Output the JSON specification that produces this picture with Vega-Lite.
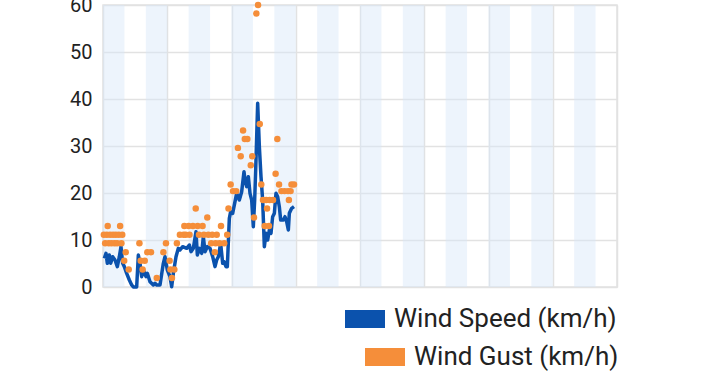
{
  "$schema": "https://vega.github.io/schema/vega-lite/v6.json",
  "width": 514,
  "height": 282,
  "autosize": {"type": "none"},
  "padding": {"left": 103, "top": 5, "right": 103, "bottom": 88},
  "background": "white",
  "config": {
    "view": {"stroke": "#e2e2e2", "strokeWidth": 1.5},
    "font": "Roboto",
    "legend": {"padding": 0, "labelFont": "Roboto", "labelFontSize": 26, "labelColor": "#222222", "labelLimit": 0, "labelOffset": 9, "title": null}
  },
  "datasets": {
    "bands": [
      {"start": 0, "end": 1}, {"start": 2, "end": 3}, {"start": 4, "end": 5}, {"start": 6, "end": 7},
      {"start": 8, "end": 9}, {"start": 10, "end": 11}, {"start": 12, "end": 13}, {"start": 14, "end": 15},
      {"start": 16, "end": 17}, {"start": 18, "end": 19}, {"start": 20, "end": 21}, {"start": 22, "end": 23}
    ],
    "speed": [
      {"t": 0.062, "v": 6.1, "s": "Wind Speed (km/h)"}, {"t": 0.14, "v": 7.16, "s": "Wind Speed (km/h)"},
      {"t": 0.202, "v": 5.04, "s": "Wind Speed (km/h)"}, {"t": 0.296, "v": 6.81, "s": "Wind Speed (km/h)"},
      {"t": 0.358, "v": 5.04, "s": "Wind Speed (km/h)"}, {"t": 0.451, "v": 6.45, "s": "Wind Speed (km/h)"},
      {"t": 0.56, "v": 5.74, "s": "Wind Speed (km/h)"}, {"t": 0.669, "v": 4.33, "s": "Wind Speed (km/h)"},
      {"t": 0.763, "v": 6.45, "s": "Wind Speed (km/h)"}, {"t": 0.84, "v": 8.58, "s": "Wind Speed (km/h)"},
      {"t": 0.918, "v": 5.04, "s": "Wind Speed (km/h)"}, {"t": 0.996, "v": 4.33, "s": "Wind Speed (km/h)"},
      {"t": 1.105, "v": 2.91, "s": "Wind Speed (km/h)"}, {"t": 1.23, "v": 1.49, "s": "Wind Speed (km/h)"},
      {"t": 1.339, "v": 0.43, "s": "Wind Speed (km/h)"}, {"t": 1.416, "v": 0, "s": "Wind Speed (km/h)"},
      {"t": 1.572, "v": 0, "s": "Wind Speed (km/h)"}, {"t": 1.65, "v": 6.81, "s": "Wind Speed (km/h)"},
      {"t": 1.728, "v": 5.04, "s": "Wind Speed (km/h)"}, {"t": 1.805, "v": 2.2, "s": "Wind Speed (km/h)"},
      {"t": 1.883, "v": 3.62, "s": "Wind Speed (km/h)"}, {"t": 2.008, "v": 2.2, "s": "Wind Speed (km/h)"},
      {"t": 2.07, "v": 2.91, "s": "Wind Speed (km/h)"}, {"t": 2.195, "v": 1.13, "s": "Wind Speed (km/h)"},
      {"t": 2.35, "v": 0.43, "s": "Wind Speed (km/h)"}, {"t": 2.428, "v": 0.78, "s": "Wind Speed (km/h)"},
      {"t": 2.506, "v": 0.43, "s": "Wind Speed (km/h)"}, {"t": 2.661, "v": 0.43, "s": "Wind Speed (km/h)"},
      {"t": 2.817, "v": 5.04, "s": "Wind Speed (km/h)"}, {"t": 2.895, "v": 6.45, "s": "Wind Speed (km/h)"},
      {"t": 3.004, "v": 3.62, "s": "Wind Speed (km/h)"}, {"t": 3.128, "v": 2.2, "s": "Wind Speed (km/h)"},
      {"t": 3.206, "v": 0.07, "s": "Wind Speed (km/h)"}, {"t": 3.284, "v": 2.91, "s": "Wind Speed (km/h)"},
      {"t": 3.409, "v": 6.45, "s": "Wind Speed (km/h)"}, {"t": 3.518, "v": 8.23, "s": "Wind Speed (km/h)"},
      {"t": 3.595, "v": 7.87, "s": "Wind Speed (km/h)"}, {"t": 3.72, "v": 8.58, "s": "Wind Speed (km/h)"},
      {"t": 3.907, "v": 8.23, "s": "Wind Speed (km/h)"}, {"t": 4.031, "v": 8.94, "s": "Wind Speed (km/h)"},
      {"t": 4.109, "v": 7.52, "s": "Wind Speed (km/h)"}, {"t": 4.218, "v": 8.23, "s": "Wind Speed (km/h)"},
      {"t": 4.342, "v": 11.77, "s": "Wind Speed (km/h)"}, {"t": 4.405, "v": 6.81, "s": "Wind Speed (km/h)"},
      {"t": 4.498, "v": 8.23, "s": "Wind Speed (km/h)"}, {"t": 4.607, "v": 7.16, "s": "Wind Speed (km/h)"},
      {"t": 4.685, "v": 10.71, "s": "Wind Speed (km/h)"}, {"t": 4.763, "v": 7.52, "s": "Wind Speed (km/h)"},
      {"t": 4.872, "v": 8.58, "s": "Wind Speed (km/h)"}, {"t": 4.996, "v": 8.23, "s": "Wind Speed (km/h)"},
      {"t": 5.121, "v": 6.45, "s": "Wind Speed (km/h)"}, {"t": 5.23, "v": 4.33, "s": "Wind Speed (km/h)"},
      {"t": 5.307, "v": 5.74, "s": "Wind Speed (km/h)"}, {"t": 5.385, "v": 6.45, "s": "Wind Speed (km/h)"},
      {"t": 5.494, "v": 9.29, "s": "Wind Speed (km/h)"}, {"t": 5.588, "v": 5.04, "s": "Wind Speed (km/h)"},
      {"t": 5.65, "v": 5.39, "s": "Wind Speed (km/h)"}, {"t": 5.743, "v": 4.33, "s": "Wind Speed (km/h)"},
      {"t": 5.805, "v": 4.33, "s": "Wind Speed (km/h)"}, {"t": 5.899, "v": 14.61, "s": "Wind Speed (km/h)"},
      {"t": 5.961, "v": 16.03, "s": "Wind Speed (km/h)"}, {"t": 6.054, "v": 15.67, "s": "Wind Speed (km/h)"},
      {"t": 6.163, "v": 18.16, "s": "Wind Speed (km/h)"}, {"t": 6.241, "v": 19.93, "s": "Wind Speed (km/h)"},
      {"t": 6.366, "v": 18.51, "s": "Wind Speed (km/h)"}, {"t": 6.475, "v": 20.28, "s": "Wind Speed (km/h)"},
      {"t": 6.584, "v": 24.54, "s": "Wind Speed (km/h)"}, {"t": 6.63, "v": 22.77, "s": "Wind Speed (km/h)"},
      {"t": 6.708, "v": 21.35, "s": "Wind Speed (km/h)"}, {"t": 6.786, "v": 23.48, "s": "Wind Speed (km/h)"},
      {"t": 6.864, "v": 19.93, "s": "Wind Speed (km/h)"}, {"t": 6.942, "v": 18.51, "s": "Wind Speed (km/h)"},
      {"t": 7.019, "v": 12.84, "s": "Wind Speed (km/h)"}, {"t": 7.082, "v": 18.51, "s": "Wind Speed (km/h)"},
      {"t": 7.144, "v": 27.02, "s": "Wind Speed (km/h)"}, {"t": 7.222, "v": 39.08, "s": "Wind Speed (km/h)"},
      {"t": 7.3, "v": 29.86, "s": "Wind Speed (km/h)"}, {"t": 7.377, "v": 23.48, "s": "Wind Speed (km/h)"},
      {"t": 7.455, "v": 18.51, "s": "Wind Speed (km/h)"}, {"t": 7.533, "v": 8.58, "s": "Wind Speed (km/h)"},
      {"t": 7.611, "v": 11.42, "s": "Wind Speed (km/h)"}, {"t": 7.689, "v": 10.0, "s": "Wind Speed (km/h)"},
      {"t": 7.767, "v": 12.13, "s": "Wind Speed (km/h)"}, {"t": 7.844, "v": 11.42, "s": "Wind Speed (km/h)"},
      {"t": 7.922, "v": 14.96, "s": "Wind Speed (km/h)"}, {"t": 8.0, "v": 15.67, "s": "Wind Speed (km/h)"},
      {"t": 8.078, "v": 19.93, "s": "Wind Speed (km/h)"}, {"t": 8.156, "v": 19.22, "s": "Wind Speed (km/h)"},
      {"t": 8.233, "v": 17.09, "s": "Wind Speed (km/h)"}, {"t": 8.296, "v": 14.26, "s": "Wind Speed (km/h)"},
      {"t": 8.42, "v": 14.26, "s": "Wind Speed (km/h)"}, {"t": 8.498, "v": 14.96, "s": "Wind Speed (km/h)"},
      {"t": 8.576, "v": 13.9, "s": "Wind Speed (km/h)"}, {"t": 8.654, "v": 12.13, "s": "Wind Speed (km/h)"},
      {"t": 8.7, "v": 15.67, "s": "Wind Speed (km/h)"}, {"t": 8.809, "v": 16.74, "s": "Wind Speed (km/h)"},
      {"t": 8.918, "v": 17.09, "s": "Wind Speed (km/h)"}
    ],
    "gust": [
      {"t": 0.04, "v": 11.1, "s": "Wind Gust (km/h)"}, {"t": 0.1, "v": 9.3, "s": "Wind Gust (km/h)"},
      {"t": 0.18, "v": 11.1, "s": "Wind Gust (km/h)"}, {"t": 0.22, "v": 13.0, "s": "Wind Gust (km/h)"},
      {"t": 0.27, "v": 9.3, "s": "Wind Gust (km/h)"}, {"t": 0.33, "v": 11.1, "s": "Wind Gust (km/h)"},
      {"t": 0.4, "v": 9.3, "s": "Wind Gust (km/h)"}, {"t": 0.47, "v": 11.1, "s": "Wind Gust (km/h)"},
      {"t": 0.54, "v": 9.3, "s": "Wind Gust (km/h)"}, {"t": 0.6, "v": 11.1, "s": "Wind Gust (km/h)"},
      {"t": 0.66, "v": 9.3, "s": "Wind Gust (km/h)"}, {"t": 0.74, "v": 11.1, "s": "Wind Gust (km/h)"},
      {"t": 0.8, "v": 13.0, "s": "Wind Gust (km/h)"}, {"t": 0.86, "v": 9.3, "s": "Wind Gust (km/h)"},
      {"t": 0.9, "v": 11.1, "s": "Wind Gust (km/h)"}, {"t": 0.99, "v": 5.6, "s": "Wind Gust (km/h)"},
      {"t": 1.06, "v": 7.4, "s": "Wind Gust (km/h)"}, {"t": 1.2, "v": 3.7, "s": "Wind Gust (km/h)"},
      {"t": 1.7, "v": 9.3, "s": "Wind Gust (km/h)"}, {"t": 1.76, "v": 5.6, "s": "Wind Gust (km/h)"},
      {"t": 1.85, "v": 3.7, "s": "Wind Gust (km/h)"}, {"t": 1.95, "v": 5.6, "s": "Wind Gust (km/h)"},
      {"t": 2.07, "v": 7.4, "s": "Wind Gust (km/h)"}, {"t": 2.24, "v": 7.4, "s": "Wind Gust (km/h)"},
      {"t": 2.51, "v": 1.9, "s": "Wind Gust (km/h)"}, {"t": 2.82, "v": 7.4, "s": "Wind Gust (km/h)"},
      {"t": 2.94, "v": 9.3, "s": "Wind Gust (km/h)"}, {"t": 3.11, "v": 5.6, "s": "Wind Gust (km/h)"},
      {"t": 3.15, "v": 3.7, "s": "Wind Gust (km/h)"}, {"t": 3.22, "v": 1.9, "s": "Wind Gust (km/h)"},
      {"t": 3.33, "v": 3.7, "s": "Wind Gust (km/h)"}, {"t": 3.45, "v": 9.3, "s": "Wind Gust (km/h)"},
      {"t": 3.59, "v": 11.1, "s": "Wind Gust (km/h)"}, {"t": 3.76, "v": 11.1, "s": "Wind Gust (km/h)"},
      {"t": 3.8, "v": 13.0, "s": "Wind Gust (km/h)"}, {"t": 3.86, "v": 11.1, "s": "Wind Gust (km/h)"},
      {"t": 4.0, "v": 13.0, "s": "Wind Gust (km/h)"}, {"t": 4.04, "v": 11.1, "s": "Wind Gust (km/h)"},
      {"t": 4.2, "v": 13.0, "s": "Wind Gust (km/h)"}, {"t": 4.33, "v": 16.7, "s": "Wind Gust (km/h)"},
      {"t": 4.42, "v": 13.0, "s": "Wind Gust (km/h)"}, {"t": 4.48, "v": 11.1, "s": "Wind Gust (km/h)"},
      {"t": 4.65, "v": 13.0, "s": "Wind Gust (km/h)"}, {"t": 4.71, "v": 11.1, "s": "Wind Gust (km/h)"},
      {"t": 4.87, "v": 14.8, "s": "Wind Gust (km/h)"}, {"t": 4.92, "v": 11.1, "s": "Wind Gust (km/h)"},
      {"t": 5.05, "v": 9.3, "s": "Wind Gust (km/h)"}, {"t": 5.1, "v": 11.1, "s": "Wind Gust (km/h)"},
      {"t": 5.22, "v": 7.4, "s": "Wind Gust (km/h)"}, {"t": 5.26, "v": 9.3, "s": "Wind Gust (km/h)"},
      {"t": 5.31, "v": 11.1, "s": "Wind Gust (km/h)"}, {"t": 5.44, "v": 9.3, "s": "Wind Gust (km/h)"},
      {"t": 5.51, "v": 13.0, "s": "Wind Gust (km/h)"}, {"t": 5.66, "v": 9.3, "s": "Wind Gust (km/h)"},
      {"t": 5.8, "v": 11.1, "s": "Wind Gust (km/h)"}, {"t": 5.86, "v": 16.7, "s": "Wind Gust (km/h)"},
      {"t": 5.96, "v": 21.8, "s": "Wind Gust (km/h)"}, {"t": 6.07, "v": 20.4, "s": "Wind Gust (km/h)"},
      {"t": 6.22, "v": 20.4, "s": "Wind Gust (km/h)"}, {"t": 6.3, "v": 29.6, "s": "Wind Gust (km/h)"},
      {"t": 6.43, "v": 27.8, "s": "Wind Gust (km/h)"}, {"t": 6.54, "v": 33.3, "s": "Wind Gust (km/h)"},
      {"t": 6.62, "v": 31.5, "s": "Wind Gust (km/h)"}, {"t": 6.74, "v": 31.5, "s": "Wind Gust (km/h)"},
      {"t": 6.9, "v": 25.9, "s": "Wind Gust (km/h)"}, {"t": 6.97, "v": 27.8, "s": "Wind Gust (km/h)"},
      {"t": 7.05, "v": 14.8, "s": "Wind Gust (km/h)"}, {"t": 7.16, "v": 58.2, "s": "Wind Gust (km/h)"},
      {"t": 7.24, "v": 60.0, "s": "Wind Gust (km/h)"}, {"t": 7.32, "v": 34.7, "s": "Wind Gust (km/h)"},
      {"t": 7.39, "v": 21.8, "s": "Wind Gust (km/h)"}, {"t": 7.47, "v": 18.5, "s": "Wind Gust (km/h)"},
      {"t": 7.55, "v": 13.0, "s": "Wind Gust (km/h)"}, {"t": 7.62, "v": 18.5, "s": "Wind Gust (km/h)"},
      {"t": 7.66, "v": 16.7, "s": "Wind Gust (km/h)"}, {"t": 7.75, "v": 13.0, "s": "Wind Gust (km/h)"},
      {"t": 7.78, "v": 18.5, "s": "Wind Gust (km/h)"}, {"t": 7.94, "v": 18.5, "s": "Wind Gust (km/h)"},
      {"t": 8.06, "v": 24.1, "s": "Wind Gust (km/h)"}, {"t": 8.14, "v": 31.5, "s": "Wind Gust (km/h)"},
      {"t": 8.22, "v": 21.8, "s": "Wind Gust (km/h)"}, {"t": 8.33, "v": 20.4, "s": "Wind Gust (km/h)"},
      {"t": 8.48, "v": 20.4, "s": "Wind Gust (km/h)"}, {"t": 8.64, "v": 20.4, "s": "Wind Gust (km/h)"},
      {"t": 8.68, "v": 18.5, "s": "Wind Gust (km/h)"}, {"t": 8.76, "v": 20.4, "s": "Wind Gust (km/h)"},
      {"t": 8.8, "v": 21.8, "s": "Wind Gust (km/h)"}, {"t": 8.92, "v": 21.8, "s": "Wind Gust (km/h)"}
    ]
  },
  "layer": [
    {
      "data": {"name": "bands"},
      "mark": {"type": "rect", "color": "#d6e6f8", "opacity": 0.45},
      "encoding": {
        "x": {"field": "start", "type": "quantitative", "scale": {"domain": [0, 24], "nice": false, "zero": false},
          "axis": {"values": [0, 3, 6, 9, 12, 15, 18, 21, 24], "labels": false, "ticks": false, "domain": false, "grid": true, "gridColor": "#e2e2e2", "gridWidth": 1.5, "title": null}},
        "x2": {"field": "end"}
      }
    },
    {
      "data": {"name": "speed"},
      "mark": {"type": "line", "strokeWidth": 3.5, "strokeJoin": "round"},
      "encoding": {
        "x": {"field": "t", "type": "quantitative"},
        "y": {"field": "v", "type": "quantitative", "scale": {"domain": [0, 60], "nice": false},
          "axis": {"values": [0, 10, 20, 30, 40, 50, 60], "ticks": false, "domain": false, "grid": true, "gridColor": "#e2e2e2", "gridWidth": 1.5, "labelFont": "Roboto", "labelFontSize": 20, "labelColor": "#222222", "labelPadding": 11, "title": null}},
        "color": {"field": "s", "type": "nominal", "scale": {"domain": ["Wind Speed (km/h)"], "range": ["#0b52ad"]},
          "legend": {"orient": "none", "legendX": 242, "legendY": 294, "symbolType": "M-1,-0.45L1,-0.45L1,0.45L-1,0.45Z", "symbolSize": 1600, "symbolStrokeWidth": 0, "symbolFillColor": "#0b52ad",
            "encode": {"symbols": {"update": {"fill": {"value": "#0b52ad"}, "fillOpacity": {"value": 1}, "strokeWidth": {"value": 0}}}}}}
      }
    },
    {
      "data": {"name": "gust"},
      "mark": {"type": "circle", "size": 42, "opacity": 1},
      "encoding": {
        "x": {"field": "t", "type": "quantitative"},
        "y": {"field": "v", "type": "quantitative"},
        "fill": {"field": "s", "type": "nominal", "scale": {"domain": ["Wind Gust (km/h)"], "range": ["#f58e3a"]},
          "legend": {"orient": "none", "legendX": 262, "legendY": 332, "symbolType": "M-1,-0.45L1,-0.45L1,0.45L-1,0.45Z", "symbolSize": 1600, "symbolStrokeWidth": 0, "symbolOpacity": 1}}
      }
    }
  ],
  "resolve": {"scale": {"color": "independent", "fill": "independent"}, "legend": {"color": "independent", "fill": "independent"}}
}
